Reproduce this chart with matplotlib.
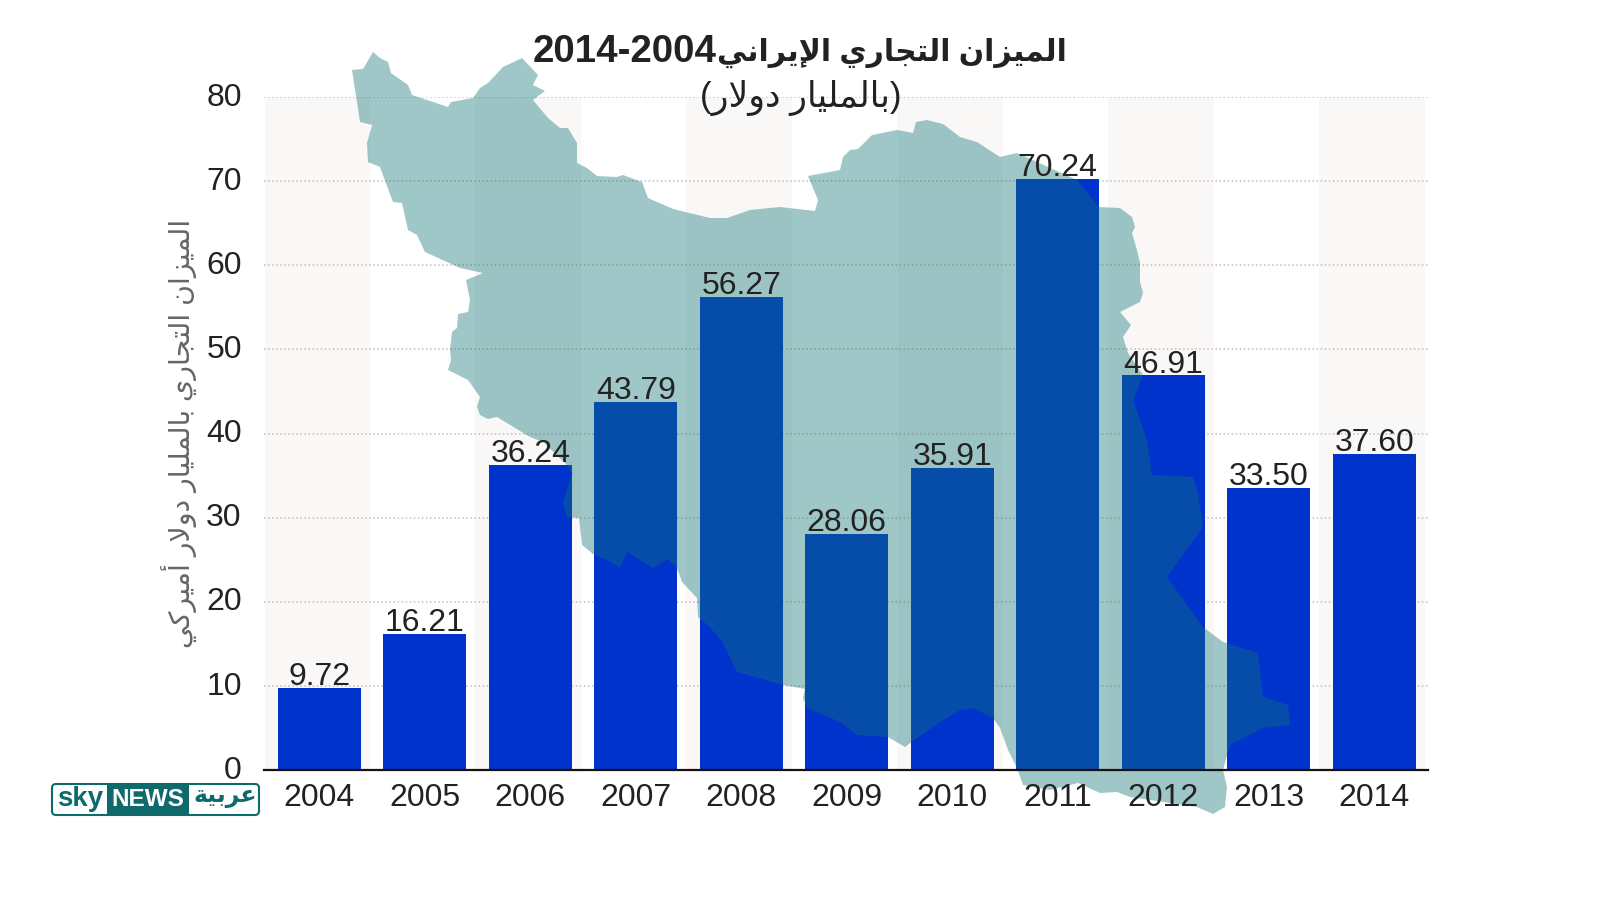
import matplotlib
matplotlib.use("Agg")
import matplotlib.pyplot as plt
from matplotlib.patches import Polygon, FancyBboxPatch, Rectangle
from matplotlib.transforms import Affine2D, ScaledTranslation

plt.rcParams['font.family'] = ['Liberation Sans', 'DejaVu Sans']

years = ['2004', '2005', '2006', '2007', '2008', '2009', '2010', '2011', '2012', '2013', '2014']
balance = [9.72, 16.21, 36.24, 43.79, 56.27, 28.06, 35.91, 70.24, 46.91, 33.50, 37.60]
y_ticks = [0, 10, 20, 30, 40, 50, 60, 70, 80]

title_ar = 'الميزان التجاري الإيراني'
title_years = '2014-2004'
subtitle_ar = 'بالمليار دولار'
ylabel_ar = 'الميزان التجاري بالمليار دولار أميركي'
logo_ar = 'عربية'

# outline of the background map, in picture pixels
iran_outline = [
    (352, 70), (363, 69), (373, 52), (380, 58), (388, 62), (391, 73), (408, 85), (412, 95), (427, 100),
    (448, 107), (451, 102), (473, 98), (480, 88), (488, 83), (503, 67), (522, 58), (538, 75), (533, 85),
    (545, 91), (533, 100), (548, 118), (560, 128), (568, 128), (577, 143), (577, 163), (587, 168),
    (597, 176), (617, 177), (623, 175), (642, 182), (648, 198), (673, 209), (710, 218), (727, 218),
    (750, 210), (780, 207), (815, 211), (818, 200), (808, 176), (840, 170), (843, 157), (850, 150),
    (858, 149), (872, 135), (897, 130), (913, 133), (916, 122), (927, 120), (943, 124), (960, 137),
    (977, 142), (1000, 157), (1017, 153), (1077, 180), (1099, 207), (1120, 208), (1132, 217), (1135, 227),
    (1132, 233), (1137, 250), (1140, 263), (1140, 282), (1143, 293), (1140, 302), (1120, 312), (1131, 325),
    (1123, 337), (1128, 353), (1143, 375), (1133, 400), (1147, 440), (1152, 475), (1193, 477), (1198, 493),
    (1203, 527), (1167, 577), (1203, 627), (1223, 642), (1258, 653), (1263, 697), (1288, 705), (1290, 725),
    (1263, 728), (1230, 745), (1223, 770), (1227, 787), (1225, 807), (1213, 814), (1197, 807), (1130, 797),
    (1117, 792), (1100, 793), (1078, 783), (1050, 790), (1023, 785), (1017, 768), (1008, 750), (1000, 728),
    (993, 718), (973, 708), (960, 710), (940, 722), (910, 743), (905, 747), (888, 737), (857, 735),
    (840, 722), (807, 708), (803, 698), (805, 689), (783, 685), (737, 672), (723, 643), (710, 627),
    (698, 617), (697, 598), (682, 582), (677, 568), (668, 559), (653, 568), (627, 552), (620, 568),
    (607, 560), (593, 554), (582, 545), (579, 518), (567, 517), (563, 503), (572, 473), (567, 465),
    (543, 442), (530, 437), (497, 417), (488, 419), (480, 415), (477, 407), (480, 397), (468, 380),
    (448, 370), (451, 360), (450, 350), (452, 332), (457, 328), (458, 314), (468, 312), (470, 300),
    (466, 280), (483, 273), (460, 268), (425, 252), (417, 235), (408, 230), (402, 203), (393, 202),
    (380, 167), (368, 162), (367, 143), (372, 125), (360, 122),
]

# isolated, final, initial, medial
forms = {
    'ا': (0xFE8D, 0xFE8E), 'إ': (0xFE87, 0xFE88), 'أ': (0xFE83, 0xFE84), 'د': (0xFEA9, 0xFEAA),
    'ر': (0xFEAD, 0xFEAE), 'ز': (0xFEAF, 0xFEB0), 'و': (0xFEED, 0xFEEE), 'ة': (0xFE93, 0xFE94),
    'ب': (0xFE8F, 0xFE90, 0xFE91, 0xFE92), 'ت': (0xFE95, 0xFE96, 0xFE97, 0xFE98),
    'ج': (0xFE9D, 0xFE9E, 0xFE9F, 0xFEA0), 'ع': (0xFEC9, 0xFECA, 0xFECB, 0xFECC),
    'ك': (0xFED9, 0xFEDA, 0xFEDB, 0xFEDC), 'ل': (0xFEDD, 0xFEDE, 0xFEDF, 0xFEE0),
    'م': (0xFEE1, 0xFEE2, 0xFEE3, 0xFEE4), 'ن': (0xFEE5, 0xFEE6, 0xFEE7, 0xFEE8),
    'ي': (0xFEF1, 0xFEF2, 0xFEF3, 0xFEF4),
}
lam_alef = {'ا': (0xFEFB, 0xFEFC), 'إ': (0xFEF9, 0xFEFA), 'أ': (0xFEF7, 0xFEF8)}


def shape(text):
    # matplotlib has no Arabic shaping: pick joined forms, return in visual order
    out = []
    i = 0
    joins = False
    while i < len(text):
        c = text[i]
        if c not in forms:
            out.append(c)
            joins = False
            i += 1
            continue
        if c == 'ل' and i + 1 < len(text) and text[i + 1] in lam_alef:
            out.append(chr(lam_alef[text[i + 1]][1 if joins else 0]))
            joins = False
            i += 2
            continue
        f = forms[c]
        next_letter = i + 1 < len(text) and text[i + 1] in forms
        if len(f) == 4 and next_letter:
            out.append(chr(f[3] if joins else f[2]))
            joins = True
        else:
            out.append(chr(f[1] if joins else f[0]))
            joins = False
        i += 1
    return ''.join(reversed(out))


figure = plt.figure(figsize=(16, 9), dpi=100)
axes = figure.add_axes([264 / 1600, 1 - 770 / 900, (1428 - 264) / 1600, (770 - 97) / 900])
pixels = Affine2D().scale(1 / 1600, -1 / 900).translate(0, 1) + figure.transFigure

for i in range(0, len(years), 2):
    axes.axvspan(i - 0.52, i + 0.48, color='#faf7f7', lw=0, zorder=0)

axes.bar(range(len(years)), balance, width=0.786, color='#0033cc', zorder=3)
axes.add_patch(Polygon(iran_outline, closed=True, transform=pixels, facecolor='#117575', alpha=0.4,
                       edgecolor='none', clip_on=False, zorder=3.5))

for i, value in enumerate(balance):
    axes.annotate(f'{value:.2f}', (i, value), xytext=(0, -3), textcoords='offset points', ha='center',
                  va='bottom', fontsize=23, color='#222222', zorder=6)

axes.set_xlim(-0.525, 10.51)
axes.set_ylim(0, 80)
axes.set_xticks(range(len(years)), years)
axes.set_yticks(y_ticks)
axes.tick_params(axis='both', length=0, labelsize=23, labelcolor='#222222')
axes.tick_params(axis='x', pad=9)
axes.tick_params(axis='y', pad=16)
axes.grid(True, axis='y', linestyle=':', color='#c4bcbc', linewidth=1.1)
axes.yaxis.set_zorder(1)
axes.xaxis.set_zorder(5)

# the y labels sit a little above their gridlines
for label in axes.get_yticklabels():
    label.set_transform(label.get_transform() + ScaledTranslation(0, 2 / 72, figure.dpi_scale_trans))

for side in ['top', 'left', 'right']:
    axes.spines[side].set_visible(False)
axes.spines['bottom'].set_linewidth(1.6)
axes.spines['bottom'].set_color('#1a1010')
axes.spines['bottom'].set_zorder(5)

figure.text(717 / 1600, 1 - 52 / 900, title_years, ha='right', va='center', fontsize=27.7, fontweight='bold',
            color='#222222')
figure.text(717 / 1600, 1 - 53 / 900, shape(title_ar), ha='left', va='center', fontsize=21.5, fontweight='bold',
            color='#222222')
figure.text(801 / 1600, 1 - 98 / 900, '(' + shape(subtitle_ar) + ')', ha='center', va='center',
            fontsize=25, color='#222222')
figure.text(179 / 1600, 1 - 433 / 900, shape(ylabel_ar), rotation=90, ha='center', va='center',
            fontsize=20.5, color='#666666')

# logo
figure.add_artist(FancyBboxPatch((52, 784), 207, 31, boxstyle='round,pad=0,rounding_size=4', transform=pixels,
                                 facecolor='white', edgecolor='#0f6b6b', linewidth=1.5))
figure.add_artist(Rectangle((107, 783), 82, 33, transform=pixels, facecolor='#0f6b6b', edgecolor='none'))
figure.text(80 / 1600, 1 - 799 / 900, 'sky', ha='center', va='center', fontsize=20, fontweight='bold',
            color='#0f6b6b')
figure.text(148 / 1600, 1 - 799 / 900, 'NEWS', ha='center', va='center', fontsize=17.5, fontweight='bold',
            color='white')
figure.text(225 / 1600, 1 - 797 / 900, shape(logo_ar), ha='center', va='center', fontsize=17, fontweight='bold',
            color='#0f6b6b')

figure.savefig('out.png', dpi=100)
